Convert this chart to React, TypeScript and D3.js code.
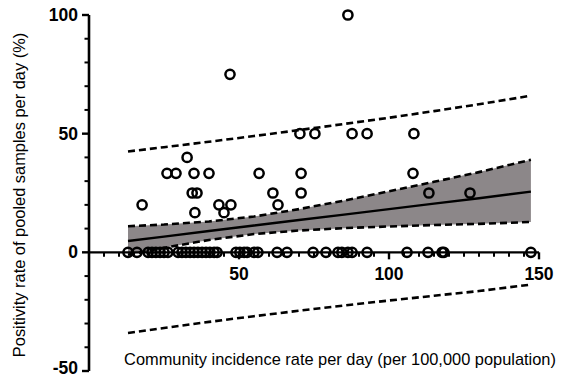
import React from "react";
import * as d3 from "d3";

const zeroX = [13, 16, 19.7, 21, 22.3, 23.7, 25, 26.3, 29.7, 31, 32.3, 33.7, 35, 36.3, 37.7, 39, 40.3, 41.7, 42.7, 49, 50.3, 51.7, 52.7, 55, 56.3, 62.7, 66, 74.7, 79, 83, 84.3, 86.3, 87.7, 92.7, 106, 113, 117.7, 118.3, 147.3];

const posX = [17.7, 26, 29, 32.7, 34.4, 35.3, 35, 36, 40, 43.3, 45, 47.3, 47, 56.7, 61.3, 63, 70.3, 70.7, 70.7, 75.3, 86.3, 87.7, 92.7, 108.3, 108, 113.3, 127];
const posY = [20, 33.3, 33.3, 40, 25, 16.7, 33.3, 25, 33.3, 20, 16.7, 20, 75, 33.3, 25, 20, 50, 33.3, 25, 50, 100, 50, 50, 50, 33.3, 25, 25];

const bandX = [13, 25, 40, 55, 70, 85, 100, 115, 130, 147.3];
const fitY = [4.8, 6.6, 9.0, 11.3, 13.6, 15.9, 18.2, 20.5, 22.8, 25.6];
const ciUpper = [11.0, 11.7, 13.0, 15.1, 18.2, 21.8, 25.7, 29.7, 33.8, 39.0];
const ciLower = [-1.0, 1.9, 5.2, 7.7, 9.2, 10.2, 10.9, 11.5, 12.0, 12.8];
const piUpper = [42.5, 44.3, 46.6, 49.0, 51.5, 54.1, 56.7, 59.5, 62.4, 66.0];
const piLower = [-34.0, -31.9, -29.3, -26.9, -24.6, -22.4, -20.3, -18.3, -16.3, -13.6];

const xTicks = [50, 100, 150];
const yTicks = [-50, 0, 50, 100];

const xTitle = "Community incidence rate per day (per 100,000 population)";
const yTitle = "Positivity rate of pooled samples per day (%)";

export default function App() {
  const x = d3.scaleLinear().domain([0, 150]).range([89, 539]);
  const y = d3.scaleLinear().domain([-50, 100]).range([371, 15]);
  const font = "'Liberation Sans', Arial, Helvetica, sans-serif";

  const idx = bandX.map((_, i) => i);
  const lineOf = (arr: number[]) =>
    d3.line<number>().x((i) => x(bandX[i])).y((i) => y(arr[i]))(idx) || "";
  const area =
    d3
      .area<number>()
      .x((i) => x(bandX[i]))
      .y0((i) => y(ciLower[i]))
      .y1((i) => y(ciUpper[i]))(idx) || "";

  const xMinor = d3.range(5, 151, 5).filter((v) => v % 50 !== 0);
  const yMinor = d3.range(-50, 101, 10).filter((v) => v % 50 !== 0);

  const dash = "7,4";
  const sw = 2.6;

  return (
    <svg
      width={562}
      height={379}
      style={{ position: "absolute", left: 0, top: 0, background: "#fff" }}
    >
      <path d={area} fill="#8c8789" stroke="none" />
      <path d={lineOf(fitY)} fill="none" stroke="#000" strokeWidth={2.4} />
      <path d={lineOf(ciUpper)} fill="none" stroke="#000" strokeWidth={sw} strokeDasharray={dash} />
      <path d={lineOf(ciLower)} fill="none" stroke="#000" strokeWidth={sw} strokeDasharray={dash} />
      <path d={lineOf(piUpper)} fill="none" stroke="#000" strokeWidth={sw} strokeDasharray={dash} />
      <path d={lineOf(piLower)} fill="none" stroke="#000" strokeWidth={sw} strokeDasharray={dash} />

      {/* axes */}
      <line x1={x(0)} x2={x(0)} y1={y(-50)} y2={y(100)} stroke="#000" strokeWidth={2.6} />
      <line x1={x(0)} x2={x(150)} y1={y(0)} y2={y(0)} stroke="#000" strokeWidth={2.4} />
      {yTicks.map((t) => (
        <g key={"yt" + t}>
          <line x1={x(0) - 7} x2={x(0)} y1={y(t)} y2={y(t)} stroke="#000" strokeWidth={2.4} />
          <text
            x={78}
            y={Math.min(y(t) + 6, 374)}
            textAnchor="end"
            fontFamily={font}
            fontWeight="bold"
            fontSize={17.5}
          >
            {t}
          </text>
        </g>
      ))}
      {yMinor.map((t) => (
        <line key={"ym" + t} x1={x(0) - 4.5} x2={x(0)} y1={y(t)} y2={y(t)} stroke="#000" strokeWidth={2} />
      ))}
      {xTicks.map((t) => (
        <g key={"xt" + t}>
          <line x1={x(t)} x2={x(t)} y1={y(0)} y2={y(0) + 7} stroke="#000" strokeWidth={2.4} />
          <text
            x={x(t)}
            y={280}
            textAnchor="middle"
            fontFamily={font}
            fontWeight="bold"
            fontSize={17.5}
          >
            {t}
          </text>
        </g>
      ))}
      {xMinor.map((t) => (
        <line key={"xm" + t} x1={x(t)} x2={x(t)} y1={y(0)} y2={y(0) + 4.5} stroke="#000" strokeWidth={2} />
      ))}

      {/* points */}
      {zeroX.map((v, i) => (
        <circle key={"z" + i} cx={x(v)} cy={y(0)} r={4.6} fill="none" stroke="#000" strokeWidth={2.5} />
      ))}
      {posX.map((v, i) => (
        <circle key={"p" + i} cx={x(v)} cy={y(posY[i])} r={4.6} fill="none" stroke="#000" strokeWidth={2.5} />
      ))}

      <text x={340} y={365} textAnchor="middle" fontFamily={font} fontSize={16.4}>
        {xTitle}
      </text>
      <text
        transform={`translate(25,195) rotate(-90)`}
        textAnchor="middle"
        fontFamily={font}
        fontSize={16.4}
      >
        {yTitle}
      </text>
    </svg>
  );
}
